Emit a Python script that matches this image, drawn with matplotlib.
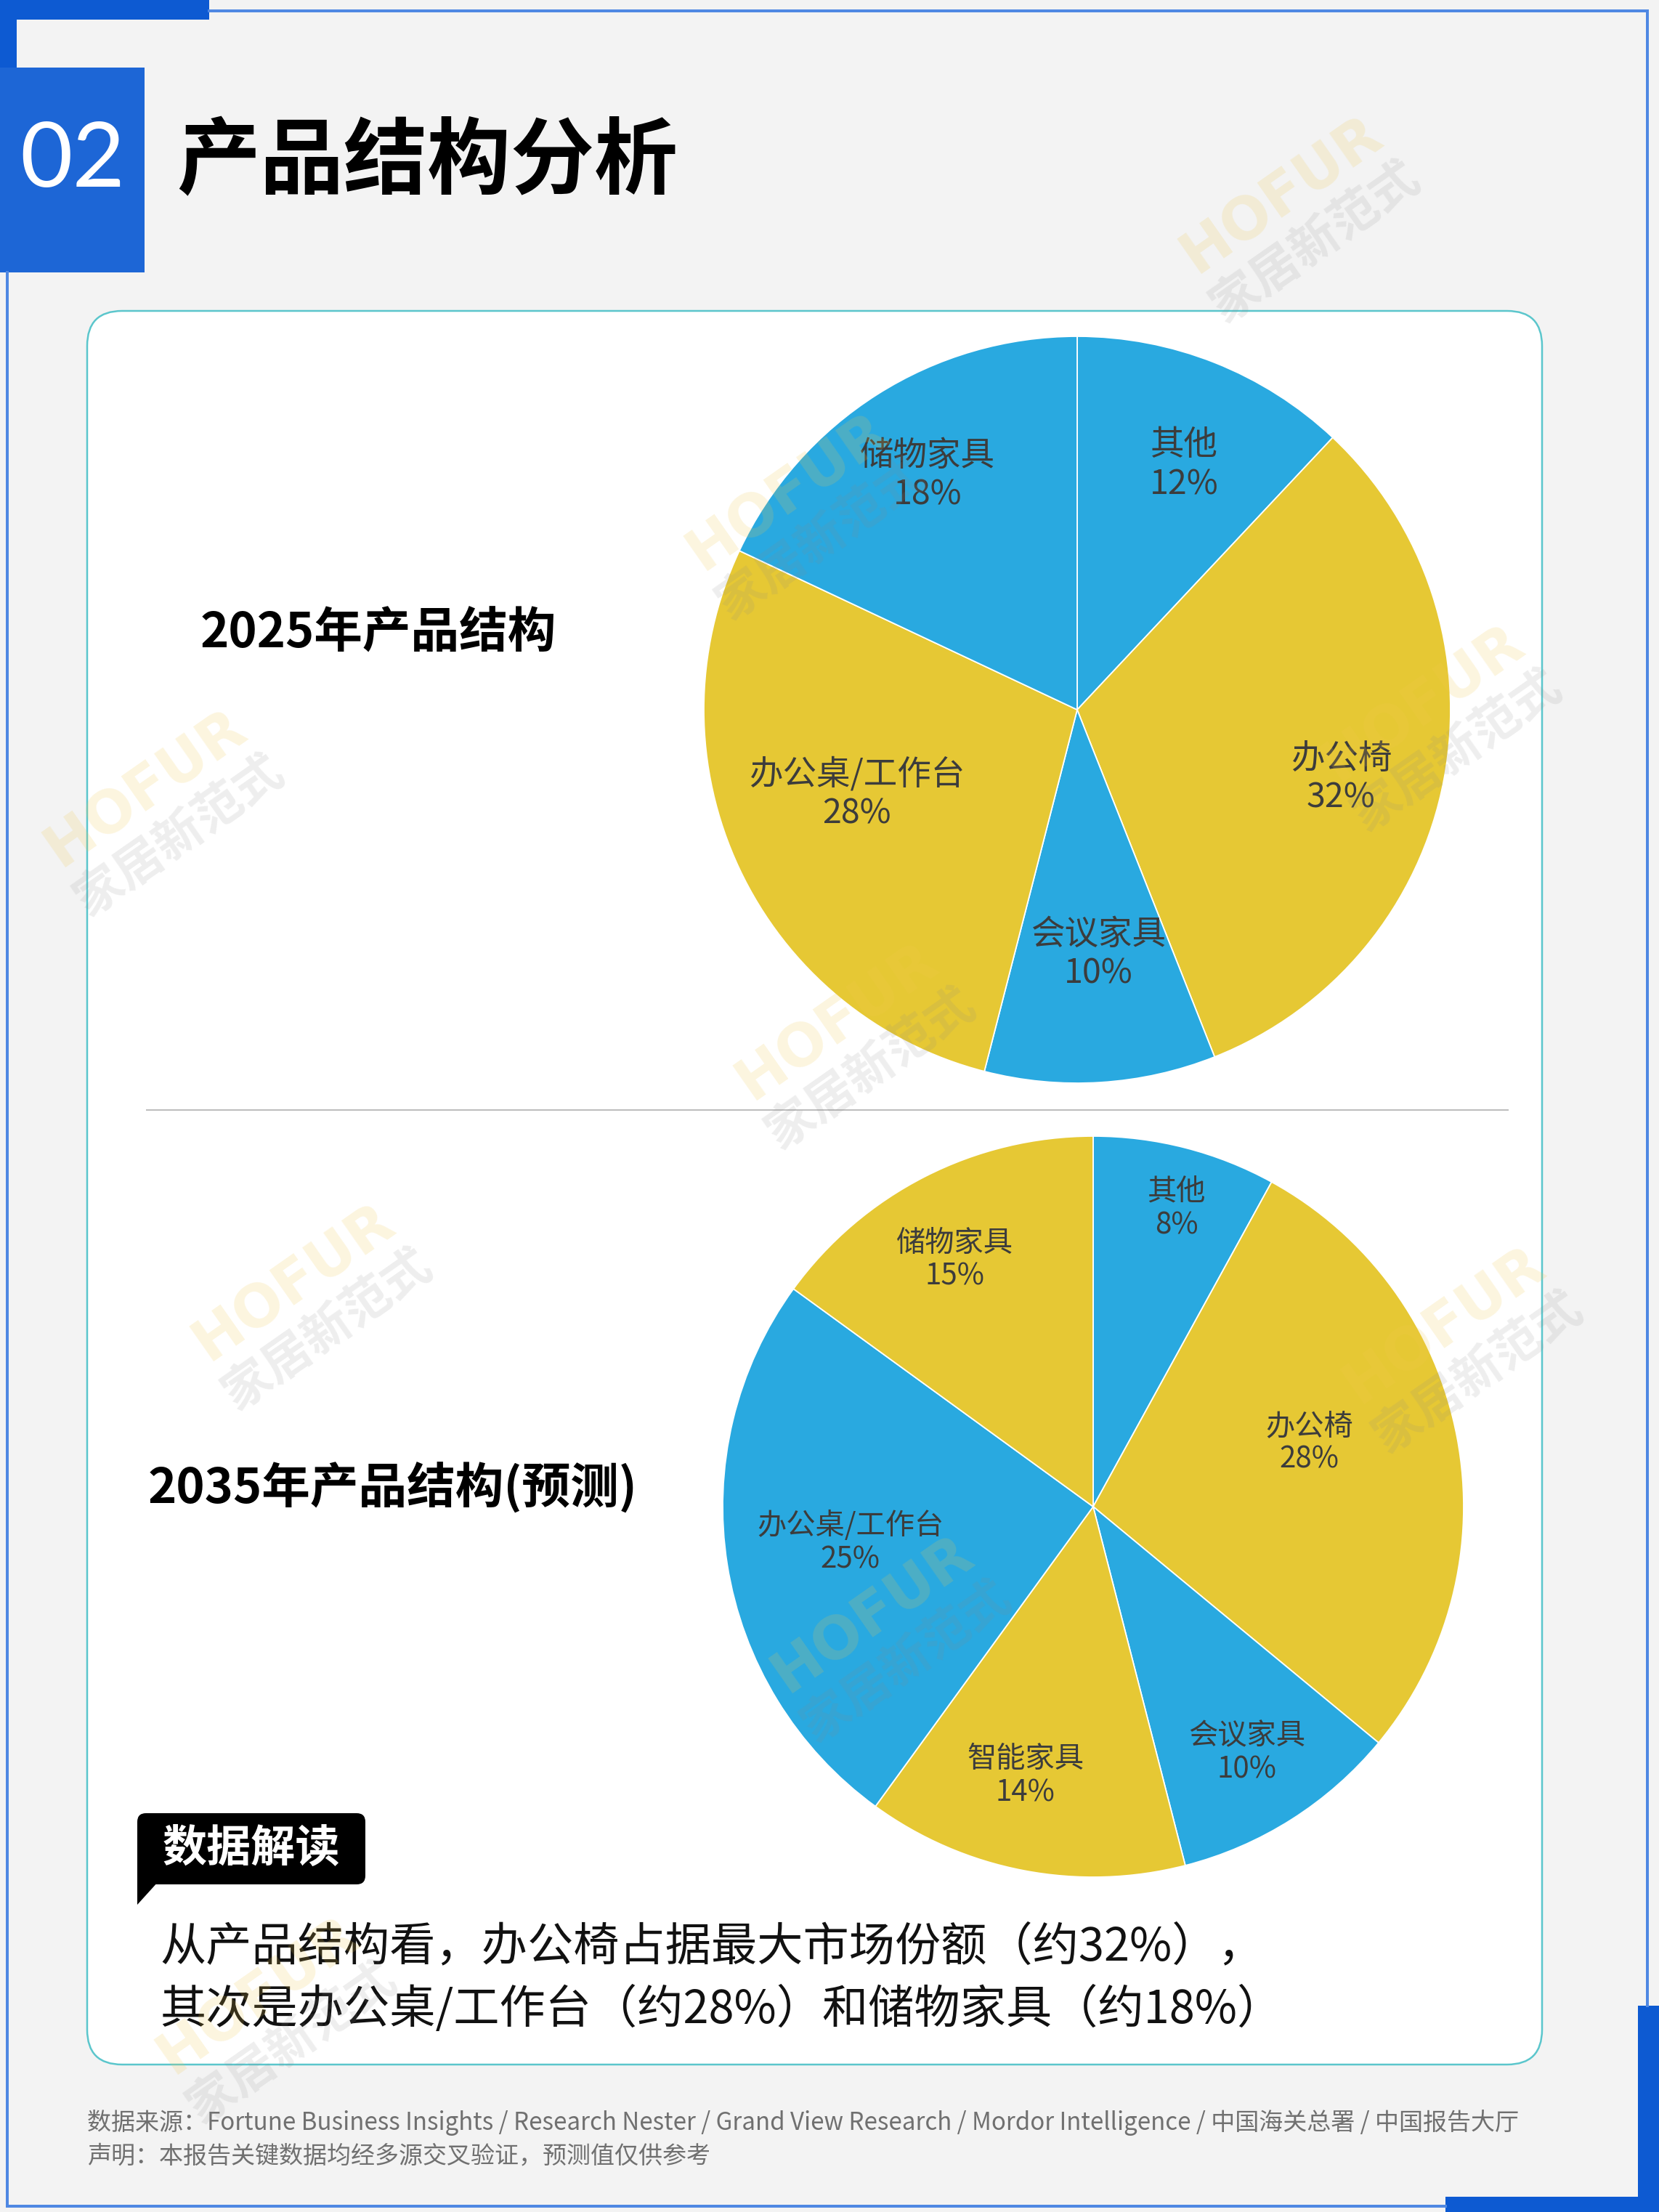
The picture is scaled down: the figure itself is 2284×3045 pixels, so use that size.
import matplotlib
matplotlib.use('Agg')
import matplotlib.pyplot as plt
from matplotlib.patches import FancyBboxPatch, Rectangle, Polygon
import numpy as np

plt.rcParams['font.family'] = ['Noto Sans CJK SC', 'DejaVu Sans']

W, H = 2284, 3045

# ---- data ----
labels_2025 = ['其他', '办公椅', '会议家具', '办公桌/工作台', '储物家具']
share_2025 = [12, 32, 10, 28, 18]
labels_2035 = ['其他', '办公椅', '会议家具', '智能家具', '办公桌/工作台', '储物家具']
share_2035 = [8, 28, 10, 14, 25, 15]

BLUE = '#29A9E0'
YELLOW = '#E6C834'
colors_2025 = [BLUE, YELLOW, BLUE, YELLOW, BLUE]
colors_2035 = [BLUE, YELLOW, BLUE, YELLOW, BLUE, YELLOW]
# label placement: fraction of radius and angle nudge (deg) from the slice middle
lab_r_2025 = [0.725, 0.728, 0.647, 0.628, 0.753]
lab_a_2025 = [-1.75, -3.0, 1.4, -5.1, -0.2]
lab_r_2035 = [0.845, 0.611, 0.775, 0.74, 0.661, 0.773]
lab_a_2035 = [-1.0, 6.5, 0.0, -3.5, -1.5, 1.9]

title = '产品结构分析'
sub_2025 = '2025年产品结构'
sub_2035 = '2035年产品结构(预测)'
note_lines = ['从产品结构看，办公椅占据最大市场份额（约32%），',
              '其次是办公桌/工作台（约28%）和储物家具（约18%）']
source = ('数据来源：Fortune Business Insights / Research Nester / Grand View Research'
          ' / Mordor Intelligence / 中国海关总署 / 中国报告大厅')
disclaimer = '声明：本报告关键数据均经多源交叉验证，预测值仅供参考'


def pt(px):
    return px * 0.72


fig = plt.figure(figsize=(W / 100, H / 100), dpi=100)
fig.patch.set_facecolor('#F3F3F3')
ax = fig.add_axes([0, 0, 1, 1])
ax.set_xlim(0, W)
ax.set_ylim(H, 0)
ax.axis('off')

# frame
frame_c = '#4F88E3'
ax.plot([288, 2268], [15, 15], color=frame_c, lw=pt(4))
ax.plot([2268, 2268], [15, 2761], color=frame_c, lw=pt(4))
ax.plot([10, 1990], [3037, 3037], color=frame_c, lw=pt(4))
ax.plot([10, 10], [375, 3037], color=frame_c, lw=pt(4))
dark_blue = '#0D5AD2'
ax.add_patch(Rectangle((0, 0), 288, 27, color=dark_blue, lw=0))
ax.add_patch(Rectangle((0, 0), 23, 93, color=dark_blue, lw=0))
ax.add_patch(Rectangle((0, 93), 199, 282, color='#1D66D6', lw=0))
ax.add_patch(Rectangle((2255, 2761), 29, 284, color=dark_blue, lw=0))
ax.add_patch(Rectangle((1990, 3024), 294, 21, color=dark_blue, lw=0))

# header
ax.text(100, 222, '02', ha='center', va='center', color='white',
        fontsize=90, fontweight='normal', family=['Lato', 'DejaVu Sans'])
ax.text(243, 225, title, ha='left', va='center', color='black',
        fontsize=pt(115), fontweight='heavy')

# card
ax.add_patch(FancyBboxPatch((120, 428), 2003, 2414,
                            boxstyle='round,pad=0,rounding_size=48',
                            fc='white', ec='#5BC6CC', lw=pt(2.5)))
ax.plot([202, 2076], [1528, 1528], color='#BDBDBD', lw=pt(2))

ax.text(276, 872, sub_2025, ha='left', va='center', fontsize=48, fontweight='bold', color='black')
ax.text(204, 2048, sub_2035, ha='left', va='center', fontsize=48, fontweight='bold', color='black')


def draw_pie(cx, cy, r, vals, cols, labs, fr, fa, fs):
    k = 1.01
    pax = fig.add_axes([(cx - r * k) / W, 1 - (cy + r * k) / H, 2 * r * k / W, 2 * r * k / H])
    wedges, _ = pax.pie(vals, colors=cols, startangle=90, counterclock=False, radius=1,
                        wedgeprops=dict(edgecolor='white', linewidth=1.3))
    pax.set_xlim(-k, k)
    pax.set_ylim(-k, k)
    pax.set_aspect('equal')
    pax.axis('off')
    for w, lab, v, f, da in zip(wedges, labs, vals, fr, fa):
        ang = np.deg2rad((w.theta1 + w.theta2) / 2 + da)
        pax.text(f * np.cos(ang), f * np.sin(ang) - 0.01, f'{lab}\n{v}%', ha='center', va='center',
                 fontsize=fs, color='#3C3C3C', linespacing=1.15)


draw_pie(1483, 977, 514, share_2025, colors_2025, labels_2025, lab_r_2025, lab_a_2025, 33.5)
draw_pie(1505, 2074, 510, share_2035, colors_2035, labels_2035, lab_r_2035, lab_a_2035, 29)

# interpretation badge
ax.add_patch(FancyBboxPatch((189, 2496), 314, 98, boxstyle='round,pad=0,rounding_size=12',
                            fc='black', ec='none'))
ax.add_patch(Rectangle((189, 2570), 30, 24, color='black', lw=0))
ax.add_patch(Polygon([(189, 2590), (218, 2590), (189, 2622)], closed=True, color='black', lw=0))
ax.text(346, 2545, '数据解读', ha='center', va='center', color='white', fontsize=44, fontweight='bold')

for i, line in enumerate(note_lines):
    ax.text(220, 2680 + i * 86, line, ha='left', va='center', fontsize=45.5,
            fontweight='medium', color='#111111')

# footer
ax.text(120, 2922, source, ha='left', va='center', fontsize=23.8, color='#707070')
ax.text(120, 2968, disclaimer, ha='left', va='center', fontsize=23.8, color='#707070')

# watermarks on top
ov = fig.add_axes([0, 0, 1, 1])
ov.set_xlim(0, W)
ov.set_ylim(H, 0)
ov.axis('off')
wm_pos = [(1788, 301), (1108, 710), (1983, 1001), (224, 1118), (1176, 1439),
          (428, 1798), (2012, 1857), (1225, 2255), (379, 2780)]
th = 35
ux, uy = -np.sin(np.deg2rad(th)), -np.cos(np.deg2rad(th))
for x, y in wm_pos:
    ov.text(x + ux * 40, y + uy * 40, 'HOFUR', rotation=th, rotation_mode='anchor',
            ha='center', va='center', fontsize=58, fontweight='bold', color='#F2C94C',
            alpha=0.18, family=['DejaVu Sans'])
    ov.text(x - ux * 40, y - uy * 40, '家居新范式', rotation=th, rotation_mode='anchor',
            ha='center', va='center', fontsize=48, fontweight='bold', color='#888888',
            alpha=0.14)

fig.savefig('out.png', dpi=100, facecolor=fig.get_facecolor())
